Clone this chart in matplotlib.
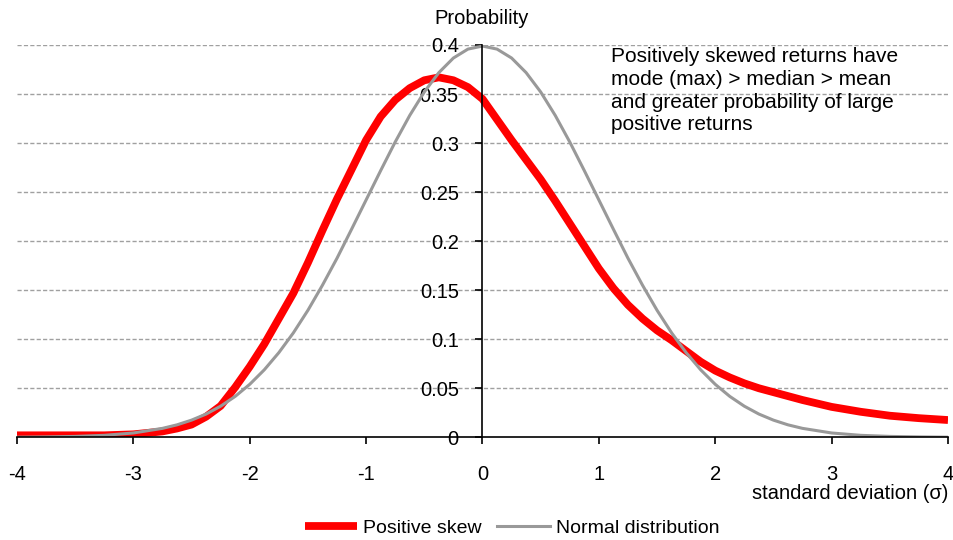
import matplotlib
matplotlib.use("Agg")
import matplotlib.pyplot as plt
from matplotlib.ticker import FixedLocator

plt.rcParams['font.family'] = ['Liberation Sans', 'DejaVu Sans']

x_vals = [-4.0, -3.75, -3.5, -3.25, -3.0, -2.75,
          -2.625, -2.5, -2.375, -2.25, -2.125, -2.0, -1.875, -1.75, -1.625, -1.5, -1.375, -1.25,
          -1.125, -1.0, -0.875, -0.75, -0.625, -0.5, -0.375, -0.25, -0.125, 0.0,
          0.125, 0.25, 0.375, 0.5, 0.625, 0.75, 0.875, 1.0, 1.125, 1.25, 1.375, 1.5,
          1.625, 1.75, 1.875, 2.0, 2.125, 2.25, 2.375, 2.5, 2.625,
          2.75, 3.0, 3.25, 3.5, 3.75, 4.0]
positive_skew = [0.002, 0.002, 0.002, 0.002, 0.003, 0.006,
                 0.009, 0.013, 0.021, 0.032, 0.051, 0.072, 0.095, 0.121, 0.147, 0.178, 0.211, 0.243,
                 0.273, 0.303, 0.327, 0.344, 0.356, 0.364, 0.367, 0.364, 0.357, 0.345,
                 0.324, 0.303, 0.283, 0.263, 0.241, 0.218, 0.195, 0.172, 0.152, 0.135, 0.121, 0.109,
                 0.099, 0.088, 0.077, 0.068, 0.061, 0.055, 0.050, 0.046, 0.042,
                 0.038, 0.031, 0.026, 0.022, 0.0195, 0.0176]
normal_dist = [0.0001, 0.0004, 0.0009, 0.0020, 0.0044, 0.0091,
               0.0127, 0.0175, 0.0237, 0.0317, 0.0417, 0.0540, 0.0688, 0.0863, 0.1065, 0.1295, 0.1551, 0.1826,
               0.2121, 0.2420, 0.2719, 0.3011, 0.3282, 0.3521, 0.3718, 0.3867, 0.3958, 0.3989,
               0.3958, 0.3867, 0.3718, 0.3521, 0.3282, 0.3011, 0.2719, 0.2420, 0.2121, 0.1826, 0.1551, 0.1295,
               0.1065, 0.0863, 0.0688, 0.0540, 0.0417, 0.0317, 0.0237, 0.0175, 0.0127,
               0.0091, 0.0044, 0.0020, 0.0009, 0.0004, 0.0001]
x_ticks = [-4, -3, -2, -1, 0, 1, 2, 3, 4]
y_ticks = [0, 0.05, 0.1, 0.15, 0.2, 0.25, 0.3, 0.35, 0.4]
y_tick_labels = ["0", "0.05", "0.1", "0.15", "0.2", "0.25", "0.3", "0.35", "0.4"]

fig = plt.figure(figsize=(9.54, 5.4), dpi=100)
ax = fig.add_axes([0.0178, 0.1902, 0.9759, 0.7265])

ax.set_xlim(-4, 4)
ax.set_ylim(0, 0.4)

for yv in y_ticks[1:]:
    ax.axhline(yv, color='#a0a0a0', linewidth=1.0, linestyle=(0, (3, 1.6)), zorder=1)

ax.plot(x_vals, positive_skew, color='#ff0000', linewidth=5.6, solid_capstyle='butt',
        solid_joinstyle='round', label='Positive skew', zorder=3)
ax.plot(x_vals, normal_dist, color='#999999', linewidth=2.2, solid_joinstyle='round',
        label='Normal distribution', zorder=4)

ax.spines['top'].set_visible(False)
ax.spines['right'].set_visible(False)
ax.spines['left'].set_position(('data', 0))
ax.spines['bottom'].set_position(('data', 0))
ax.spines['left'].set_linewidth(1.2)
ax.spines['bottom'].set_linewidth(1.2)
ax.spines['left'].set_zorder(5)
ax.spines['bottom'].set_zorder(5)

ax.xaxis.set_major_locator(FixedLocator(x_ticks))
ax.set_xticklabels([str(t) for t in x_ticks])
ax.yaxis.set_major_locator(FixedLocator(y_ticks))
ax.set_yticklabels(y_tick_labels)
ax.tick_params(axis='x', direction='out', length=5, width=1.2, pad=15, labelsize=14.5)
ax.tick_params(axis='y', direction='out', length=5, width=1.2, pad=12, labelsize=14.5)

fig.text(482 / 954, 1 - 24 / 540, "Probability", ha='center', va='baseline', fontsize=14.5)
fig.text(948 / 954, 1 - 499 / 540, "standard deviation (\u03c3)", ha='right', va='baseline',
         fontsize=14.5)
fig.text(611 / 954, 1 - 47 / 540,
         "Positively skewed returns have\nmode (max) > median > mean\nand greater probability of large\npositive returns",
         ha='left', va='top', fontsize=15, linespacing=1.25)

fig.legend(loc='center', bbox_to_anchor=(512 / 954, 1 - 528 / 540), ncol=2, frameon=False,
           fontsize=14, handlelength=2.7, columnspacing=0.8, handletextpad=0.3)

fig.savefig("out.png", dpi=100)
